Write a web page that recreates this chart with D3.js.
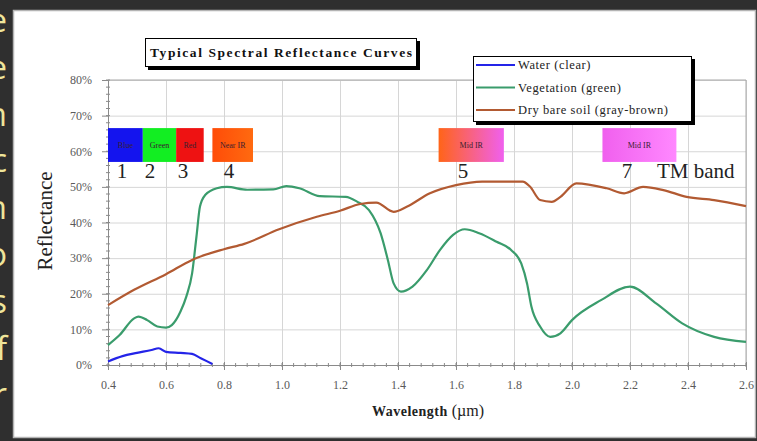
<!DOCTYPE html>
<html>
<head>
<meta charset="utf-8">
<script src="https://cdn.jsdelivr.net/npm/d3@7"></script>
<style>
	html, body { margin: 0; padding: 0; background: #2f2f2f; }
	svg { display: block; }
	.tick-label { font-family: "Liberation Serif", serif; font-size: 12px; fill: #5a5a5a; }
</style>
</head>
<body>
<svg id="chart" width="757" height="441" viewBox="0 0 757 441"></svg>
<script>

// spectral curves, wavelength in um, reflectance in %
const water_wl  = [0.40, 0.45, 0.50, 0.55, 0.575, 0.60, 0.65, 0.69, 0.72, 0.76];
const water_ref = [1.0, 2.5, 3.4, 4.2, 4.7, 3.7, 3.4, 3.1, 1.9, 0.3];

const veg_wl  = [0.40, 0.44, 0.49, 0.505, 0.535, 0.57, 0.60, 0.62, 0.65, 0.67,
	0.69, 0.705, 0.717, 0.735, 0.775, 0.81, 0.88, 0.97, 1.015, 1.06,
	1.13, 1.22, 1.26, 1.30, 1.34, 1.365, 1.385, 1.41, 1.45, 1.50,
	1.545, 1.59, 1.63, 1.68, 1.74, 1.79, 1.825, 1.845, 1.86, 1.89,
	1.925, 1.96, 2.00, 2.10, 2.20, 2.29, 2.38, 2.49, 2.60];
const veg_ref = [5.6, 8.4, 13.1, 13.6, 12.6, 10.8, 10.5, 11.2, 15.0, 19.2,
	25.7, 36.0, 44.4, 47.7, 49.6, 50.0, 49.2, 49.3, 50.2, 49.6,
	47.4, 47.2, 45.8, 43.5, 37.0, 29.5, 22.9, 20.6, 22.0, 26.7,
	32.3, 36.5, 38.1, 37.0, 34.6, 32.3, 28.5, 22.9, 16.4, 10.8,
	7.9, 8.9, 12.6, 18.2, 22.0, 17.3, 11.7, 7.9, 6.5];

const soil_wl  = [0.40, 0.49, 0.60, 0.69, 0.80, 0.87, 0.99, 1.12, 1.20, 1.27,
	1.325, 1.385, 1.43, 1.51, 1.60, 1.69, 1.83, 1.855, 1.89, 1.93,
	1.96, 2.015, 2.12, 2.18, 2.245, 2.315, 2.395, 2.49, 2.60];
const soil_ref = [16.8, 21.1, 25.5, 29.5, 32.5, 34.0, 38.1, 41.6, 43.3, 45.2,
	45.6, 43.0, 44.4, 48.2, 50.5, 51.5, 51.5, 50.1, 46.3, 45.8,
	47.2, 51.0, 49.6, 48.2, 50.0, 49.1, 47.2, 46.3, 44.6];

const series_names = ["Water (clear)", "Vegetation (green)", "Dry bare soil (gray-brown)"];

// TM bands drawn as coloured boxes
const band_labels = ["Blue", "Green", "Red", "Near IR", "Mid IR", "Mid IR"];
const band_start  = [0.40, 0.52, 0.635, 0.76, 1.54, 2.105];
const band_end    = [0.52, 0.635, 0.73, 0.90, 1.765, 2.36];
const band_numbers = ["1", "2", "3", "4", "5", "7"];
const band_number_wl = [0.448, 0.545, 0.659, 0.817, 1.624, 2.19];

const x_ticks = [0.4, 0.6, 0.8, 1.0, 1.2, 1.4, 1.6, 1.8, 2.0, 2.2, 2.4, 2.6];
const y_ticks = [0, 10, 20, 30, 40, 50, 60, 70, 80];

// letters of the slide text cut by the left edge
const side_letters = ["e", "e", "n", "c", "n", "o", "s", "f", "r"];

const svg = d3.select("#chart");

svg.append("rect").attr("width", 757).attr("height", 441).attr("fill", "#2f2f2f");

svg.selectAll(".side-letter")
	.data(side_letters)
	.enter().append("text")
	.attr("x", 7)
	.attr("y", (d, i) => 32 + i * 46.8)
	.attr("text-anchor", "end")
	.style("font-family", "'Open Sans', sans-serif")
	.style("font-size", "33px")
	.style("fill", "#efe59a")
	.text(d => d);

svg.append("rect")
	.attr("x", 13.5).attr("y", 10.5)
	.attr("width", 742).attr("height", 427)
	.attr("fill", "#ffffff")
	.attr("stroke", "#b4b4b4")
	.attr("stroke-width", 1.5);

const x = d3.scaleLinear().domain([0.4, 2.6]).range([108, 746]);
const y = d3.scaleLinear().domain([0, 80]).range([365, 80]);

const plot = svg.append("g");

// grid
plot.append("g")
	.attr("transform", "translate(0,365)")
	.call(d3.axisBottom(x).tickValues(x_ticks).tickSize(-285).tickFormat(""))
	.call(g => g.select(".domain").remove())
	.selectAll("line").attr("stroke", "#d6d6d6");

plot.append("g")
	.attr("transform", "translate(108,0)")
	.call(d3.axisLeft(y).tickValues(y_ticks).tickSize(-638).tickFormat(""))
	.call(g => g.select(".domain").remove())
	.selectAll("line").attr("stroke", "#d6d6d6");

// frame top / right
plot.append("path")
	.attr("d", `M${x(0.4)},${y(80)}H${x(2.6)}V${y(0)}`)
	.attr("fill", "none").attr("stroke", "#a8a8a8");

// minor ticks
const x_minor = d3.range(0, 56).map(i => 0.4 + i * 0.04).filter(v => v <= 2.6001);
const y_minor = d3.range(0, 41).map(i => i * 2);

plot.selectAll(".xminor")
	.data(x_minor)
	.enter().append("line")
	.attr("x1", d => x(d)).attr("x2", d => x(d))
	.attr("y1", y(0) - 2).attr("y2", y(0) + 2)
	.attr("stroke", "#8a8a8a");

plot.selectAll(".yminor")
	.data(y_minor)
	.enter().append("line")
	.attr("x1", x(0.4) - 2).attr("x2", x(0.4) + 2)
	.attr("y1", d => y(d)).attr("y2", d => y(d))
	.attr("stroke", "#8a8a8a");

// axes
const x_axis = plot.append("g")
	.attr("transform", "translate(0,365)")
	.call(d3.axisBottom(x).tickValues(x_ticks).tickSize(5).tickPadding(10).tickFormat(d3.format(".1f")));
x_axis.select(".domain").attr("stroke", "#8a8a8a");
x_axis.selectAll(".tick line").attr("stroke", "#8a8a8a").attr("y1", -3);
x_axis.selectAll("text").attr("class", "tick-label");

const y_axis = plot.append("g")
	.attr("transform", "translate(108,0)")
	.call(d3.axisLeft(y).tickValues(y_ticks).tickSize(6).tickPadding(10).tickFormat(d => d + "%"));
y_axis.select(".domain").attr("stroke", "#8a8a8a");
y_axis.selectAll(".tick line").attr("stroke", "#8a8a8a");
y_axis.selectAll("text").attr("class", "tick-label");

// band boxes
const defs = svg.append("defs");
const band_fill = [
	["#1414ee", "#1414ee"],
	["#12ee22", "#12ee22"],
	["#ee1212", "#ee1212"],
	["#ff4c08", "#ff6a10"],
	["#ff6418", "#f060ee"],
	["#f060ee", "#ff88ff"]
];
band_fill.forEach((c, i) => {
	const gr = defs.append("linearGradient").attr("id", "band-grad-" + i)
		.attr("x1", "0%").attr("x2", "100%").attr("y1", "0%").attr("y2", "0%");
	gr.append("stop").attr("offset", "0%").attr("stop-color", c[0]);
	gr.append("stop").attr("offset", "100%").attr("stop-color", c[1]);
});

const band_g = svg.append("g");
band_labels.forEach((label, i) => {
	band_g.append("rect")
		.attr("x", x(band_start[i]))
		.attr("y", y(66.5))
		.attr("width", x(band_end[i]) - x(band_start[i]))
		.attr("height", y(57) - y(66.5))
		.attr("fill", "url(#band-grad-" + i + ")");
	band_g.append("text")
		.attr("x", (x(band_start[i]) + x(band_end[i])) / 2)
		.attr("y", y(61.8) + 3)
		.attr("text-anchor", "middle")
		.style("font-family", "'Liberation Serif', serif")
		.style("font-size", "8px")
		.style("fill", "#3a2030")
		.text(label);
	band_g.append("text")
		.attr("x", x(band_number_wl[i]))
		.attr("y", y(52.5))
		.attr("text-anchor", "middle")
		.style("font-family", "'Liberation Serif', serif")
		.style("font-size", "21px")
		.style("fill", "#222")
		.text(band_numbers[i]);
});
band_g.append("text")
	.attr("x", 657).attr("y", y(52.5))
	.style("font-family", "'Liberation Serif', serif")
	.style("font-size", "21px")
	.style("fill", "#222")
	.text("TM band");

// curves
const line = d3.line()
	.x(d => x(d[0]))
	.y(d => y(d[1]))
	.curve(d3.curveMonotoneX);

const series = [
	{ name: series_names[0], color: "#2424e8", data: d3.zip(water_wl, water_ref) },
	{ name: series_names[1], color: "#3a9c6c", data: d3.zip(veg_wl, veg_ref) },
	{ name: series_names[2], color: "#b25a32", data: d3.zip(soil_wl, soil_ref) }
];

svg.append("g").selectAll("path")
	.data(series)
	.enter().append("path")
	.attr("d", d => line(d.data))
	.attr("fill", "none")
	.attr("stroke", d => d.color)
	.attr("stroke-width", 2.2)
	.attr("stroke-linejoin", "round");

// title box
svg.append("rect").attr("x", 148).attr("y", 41).attr("width", 272).attr("height", 29).attr("fill", "#000");
svg.append("rect").attr("x", 145.5).attr("y", 38.5).attr("width", 271).attr("height", 28)
	.attr("fill", "#fff").attr("stroke", "#000");
svg.append("text")
	.attr("x", 281).attr("y", 57)
	.attr("text-anchor", "middle")
	.attr("textLength", 262)
	.style("font-family", "'Liberation Serif', serif")
	.style("font-weight", "bold")
	.style("font-size", "13.5px")
	.style("fill", "#111")
	.text("Typical Spectral Reflectance Curves");

// legend
const legend = svg.append("g");
legend.append("rect").attr("x", 476).attr("y", 59).attr("width", 219).attr("height", 66).attr("fill", "#000");
legend.append("rect").attr("x", 473.5).attr("y", 56.5).attr("width", 218).attr("height", 65)
	.attr("fill", "#fff").attr("stroke", "#000");
const leg_item = legend.selectAll(".leg")
	.data(series)
	.enter().append("g")
	.attr("transform", (d, i) => "translate(0," + (65 + i * 22.5) + ")");
leg_item.append("line")
	.attr("x1", 476).attr("x2", 515)
	.attr("stroke", d => d.color).attr("stroke-width", 2);
leg_item.append("text")
	.attr("x", 518).attr("y", 4)
	.style("font-family", "'Liberation Serif', serif")
	.style("font-size", "12.5px")
	.style("letter-spacing", "0.6px")
	.style("fill", "#222")
	.text(d => d.name);

// axis titles
svg.append("text")
	.attr("transform", "translate(52,221) rotate(-90)")
	.attr("text-anchor", "middle")
	.style("font-family", "'Liberation Serif', serif")
	.style("font-size", "21px")
	.style("fill", "#222")
	.text("Reflectance");

const xt = svg.append("text")
	.attr("x", 428).attr("y", 416)
	.attr("text-anchor", "middle")
	.style("font-family", "'Liberation Serif', serif")
	.style("fill", "#222");
xt.append("tspan").style("font-weight", "bold").style("font-size", "14px").style("letter-spacing", "0.5px").text("Wavelength");
xt.append("tspan").style("font-size", "16px").text("  (\u00b5m)");

</script>
</body>
</html>
